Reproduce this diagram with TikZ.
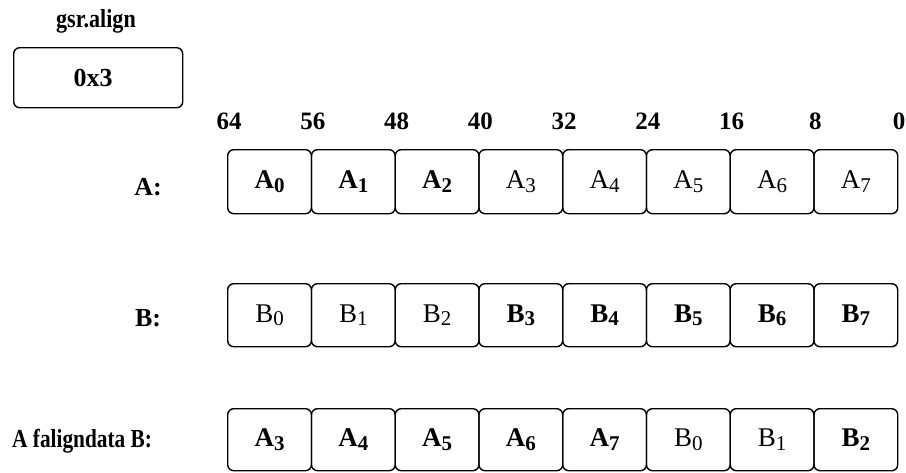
\documentclass[tikz,border=0pt]{standalone}
\usepackage{fontspec}
\setmainfont{Liberation Serif}
\newcommand\subd[1]{\raisebox{-0.3ex}{\fontsize{21}{21}\selectfont #1}}
\begin{document}
\begin{tikzpicture}[x=1pt,y=-1pt,
  cell/.style={draw, line width=1.4pt, rounded corners=6pt, minimum width=83.75pt, minimum height=64pt, inner sep=0pt, anchor=north west, font=\fontsize{27}{27}\selectfont},
  lbl/.style={font=\bfseries\fontsize{26}{26}\selectfont, inner sep=0pt},
  num/.style={font=\bfseries\fontsize{25}{25}\selectfont, inner sep=0pt}]
\useasboundingbox (0,0) rectangle (906,472);
% gsr.align register
\node[lbl] (gsrlbl) at (96,21) {\scalebox{0.85}[1]{gsr.align}};
\node[draw, line width=1.4pt, rounded corners=6pt, minimum width=169pt, minimum height=60pt, inner sep=0pt, anchor=north west] (gsr) at (13,47) {};
\node[lbl] (gsrval) at (93,78) {0x3};
% bit positions
\foreach \n [count=\i from 0] in {64,56,48,40,32,24,16,8,0}
  \node[num] (bit\i) at ({229+83.75*\i},121) {\n};
% row labels
\node[lbl] (la) at (148,187) {A:};
\node[lbl] (lb) at (148,318) {B:};
\node[lbl, anchor=west] (lc) at (12,441) {\scalebox{0.82}[1]{A faligndata B:}};
% row A
\node[cell] (a0) at (227,149) {\textbf{A\subd{0}}};
\node[cell] (a1) at (310.75,149) {\textbf{A\subd{1}}};
\node[cell] (a2) at (394.5,149) {\textbf{A\subd{2}}};
\node[cell] (a3) at (478.25,149) {A\subd{3}};
\node[cell] (a4) at (562,149) {A\subd{4}};
\node[cell] (a5) at (645.75,149) {A\subd{5}};
\node[cell] (a6) at (729.5,149) {A\subd{6}};
\node[cell] (a7) at (813.25,149) {A\subd{7}};
% row B
\node[cell, minimum height=63pt] (b0) at (227,283) {B\subd{0}};
\node[cell, minimum height=63pt] (b1) at (310.75,283) {B\subd{1}};
\node[cell, minimum height=63pt] (b2) at (394.5,283) {B\subd{2}};
\node[cell, minimum height=63pt] (b3) at (478.25,283) {\textbf{B\subd{3}}};
\node[cell, minimum height=63pt] (b4) at (562,283) {\textbf{B\subd{4}}};
\node[cell, minimum height=63pt] (b5) at (645.75,283) {\textbf{B\subd{5}}};
\node[cell, minimum height=63pt] (b6) at (729.5,283) {\textbf{B\subd{6}}};
\node[cell, minimum height=63pt] (b7) at (813.25,283) {\textbf{B\subd{7}}};
% result row
\node[cell, minimum height=62pt] (c0) at (227,408) {\textbf{A\subd{3}}};
\node[cell, minimum height=62pt] (c1) at (310.75,408) {\textbf{A\subd{4}}};
\node[cell, minimum height=62pt] (c2) at (394.5,408) {\textbf{A\subd{5}}};
\node[cell, minimum height=62pt] (c3) at (478.25,408) {\textbf{A\subd{6}}};
\node[cell, minimum height=62pt] (c4) at (562,408) {\textbf{A\subd{7}}};
\node[cell, minimum height=62pt] (c5) at (645.75,408) {B\subd{0}};
\node[cell, minimum height=62pt] (c6) at (729.5,408) {B\subd{1}};
\node[cell, minimum height=62pt] (c7) at (813.25,408) {\textbf{B\subd{2}}};
\end{tikzpicture}
\end{document}
